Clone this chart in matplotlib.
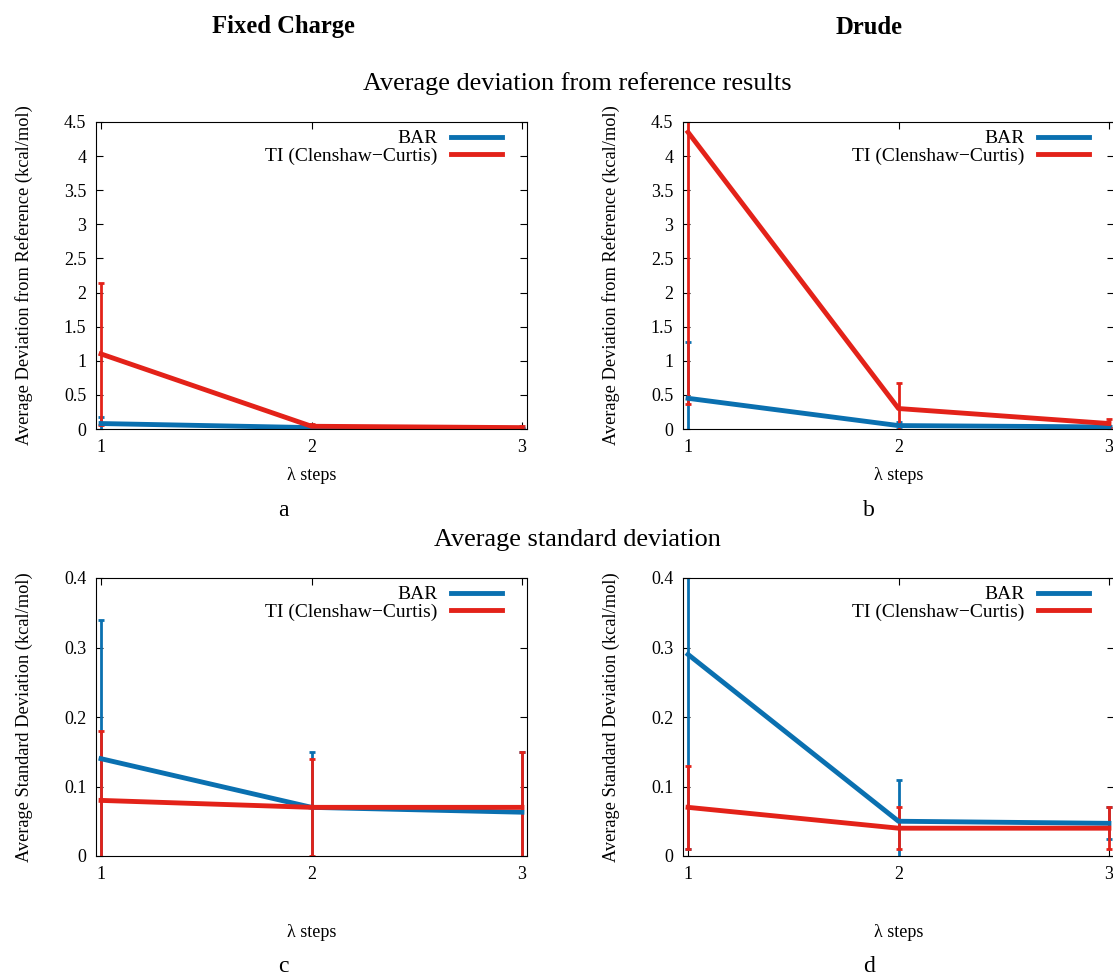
import matplotlib
matplotlib.use("Agg")
import matplotlib.pyplot as plt
import matplotlib.ticker as ticker

plt.rcParams['font.family'] = ['Liberation Serif', 'DejaVu Serif']

steps = [1, 2, 3]

# average deviation from reference (kcal/mol)
fc_dev_bar = [0.08, 0.02, 0.01]
fc_dev_bar_err = [0.10, 0.02, 0.01]
fc_dev_ti = [1.10, 0.04, 0.02]
fc_dev_ti_err = [1.04, 0.03, 0.02]

dr_dev_bar = [0.45, 0.05, 0.03]
dr_dev_bar_err = [0.83, 0.05, 0.02]
dr_dev_ti = [4.35, 0.30, 0.08]
dr_dev_ti_err = [3.98, 0.37, 0.07]

# average standard deviation (kcal/mol)
fc_std_bar = [0.14, 0.07, 0.063]
fc_std_bar_err = [0.20, 0.08, 0.087]
fc_std_ti = [0.08, 0.07, 0.07]
fc_std_ti_err = [0.10, 0.07, 0.08]

dr_std_bar = [0.29, 0.05, 0.047]
dr_std_bar_err = [0.28, 0.06, 0.023]
dr_std_ti = [0.07, 0.04, 0.04]
dr_std_ti_err = [0.06, 0.03, 0.03]

BLUE = '#0a70b0'
RED = '#e32219'
W, H = 1113, 976


def make_axes(fig, left, top, right, bottom):
    return fig.add_axes([left / W, 1 - bottom / H, (right - left) / W, (bottom - top) / H])


def panel(ax, bar, bar_err, ti, ti_err, ymax, ystep, ylabel, xlab_y):
    ax.errorbar(steps, bar, yerr=bar_err, color=BLUE, lw=3.5, elinewidth=2,
                capsize=2, capthick=2, label='BAR')
    ax.errorbar(steps, ti, yerr=ti_err, color=RED, lw=3.5, elinewidth=2,
                capsize=2, capthick=2, label='TI (Clenshaw\u2212Curtis)')
    ax.set_xlim(0.976, 3.024)
    ax.set_ylim(0, ymax)
    ax.set_xticks(steps)
    ax.yaxis.set_major_locator(ticker.MultipleLocator(ystep))
    ax.yaxis.set_major_formatter(ticker.FuncFormatter(lambda v, p: '%g' % round(v, 3)))
    ax.tick_params(direction='in', top=True, right=True, length=5, width=0.8,
                   labelsize=13, pad=7)
    ax.set_ylabel(ylabel, fontsize=13.2)
    ax.yaxis.set_label_coords(-0.146, 0.5)
    ax.set_xlabel('\u03bb steps', fontsize=13)
    ax.xaxis.set_label_coords(0.5, xlab_y)
    h, l = ax.get_legend_handles_labels()
    leg = ax.legend([x[0] for x in h], l, loc='upper right', frameon=False,
                    markerfirst=False, fontsize=14, handlelength=2.6,
                    handletextpad=0.7, labelspacing=0.0,
                    borderaxespad=0.0, bbox_to_anchor=(0.959, 1.0))
    leg._legend_box.align = 'right'


fig = plt.figure(figsize=(W / 100, H / 100), dpi=100)

ax_a = make_axes(fig, 96, 122, 527, 429)
ax_b = make_axes(fig, 683, 122, 1114, 429)
ax_c = make_axes(fig, 96, 578, 527, 856)
ax_d = make_axes(fig, 683, 578, 1114, 856)

dev_label = 'Average Deviation from Reference (kcal/mol)'
std_label = 'Average Standard Deviation (kcal/mol)'
panel(ax_a, fc_dev_bar, fc_dev_bar_err, fc_dev_ti, fc_dev_ti_err, 4.5, 0.5, dev_label, -0.125)
panel(ax_b, dr_dev_bar, dr_dev_bar_err, dr_dev_ti, dr_dev_ti_err, 4.5, 0.5, dev_label, -0.125)
panel(ax_c, fc_std_bar, fc_std_bar_err, fc_std_ti, fc_std_ti_err, 0.4, 0.1, std_label, -0.245)
panel(ax_d, dr_std_bar, dr_std_bar_err, dr_std_ti, dr_std_ti_err, 0.4, 0.1, std_label, -0.245)

fig.text(283 / W, 1 - 27 / H, 'Fixed Charge', ha='center', va='center', fontsize=17.7, fontweight='bold')
fig.text(869 / W, 1 - 27 / H, 'Drude', ha='center', va='center', fontsize=17.7, fontweight='bold')
fig.text(577 / W, 1 - 84 / H, 'Average deviation from reference results', ha='center', va='center', fontsize=18.9)
fig.text(577 / W, 1 - 540 / H, 'Average standard deviation', ha='center', va='center', fontsize=18.9)
for lab, x, y in [('a', 283, 510), ('b', 869, 510), ('c', 283, 966), ('d', 869, 966)]:
    fig.text(x / W, 1 - y / H, lab, ha='center', va='center', fontsize=17)

fig.savefig('out.png', dpi=100)
